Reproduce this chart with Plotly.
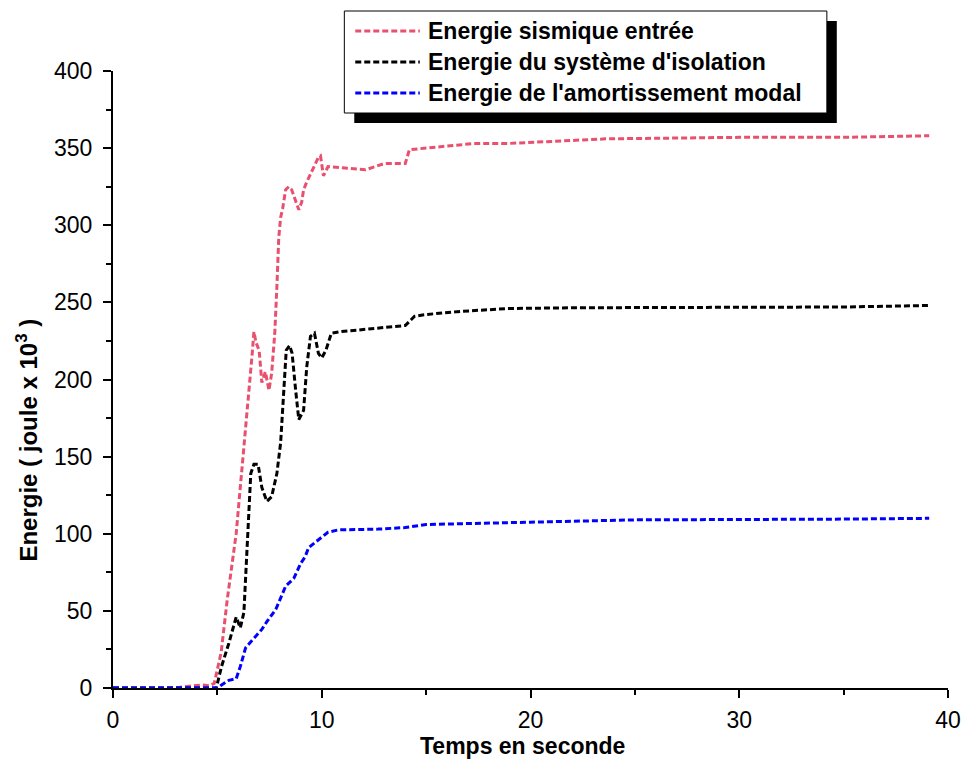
import plotly.graph_objects as go

# ---- data ----
t_input = [0, 2.5, 3.2, 3.8, 4.3, 4.6, 4.85, 5.18, 5.47, 5.9, 6.2, 6.5, 6.67, 6.75, 6.85, 7.0, 7.08, 7.13,
           7.3, 7.47, 7.6, 7.75, 7.85, 7.94, 8.03, 8.13, 8.27, 8.42, 8.56, 8.75, 8.9, 9.04, 9.13, 9.28,
           9.6, 9.84, 9.94, 10.08, 10.3, 11.1, 12.1, 13.0, 14.0, 14.2, 15.7, 17.3, 18.9, 20.5, 23.6, 30, 35, 39.1]
e_input = [0, 0, 0.5, 1.5, 2, 1.5, 3, 23, 57, 100, 146, 187, 217, 231, 224, 219, 208, 198,
           205, 193, 204, 230, 260, 292, 305, 311, 323, 325, 323, 315, 310, 315, 323, 328,
           337, 344, 345, 332, 338, 337, 336, 340, 340, 349, 351, 353, 353, 354, 356, 357, 357, 358]

t_isol = [0, 4.95, 5.2, 5.55, 5.9, 6.1, 6.27, 6.37, 6.5, 6.6, 6.75, 6.95, 7.13, 7.37, 7.6, 7.85, 8.03,
          8.2, 8.3, 8.46, 8.58, 8.75, 8.9, 9.13, 9.28, 9.46, 9.65, 9.84, 10.0, 10.2, 10.46, 10.9,
          12.5, 14.0, 14.45, 14.9, 16.5, 18.9, 22, 30, 35, 39.1]
e_isol = [0, 0, 14, 29, 46, 39, 49, 77, 117, 139, 145, 145, 130, 121, 124, 139, 159,
          198, 219, 222, 217, 193, 174, 180, 208, 228, 230, 217, 214, 219, 230, 231,
          233, 235, 241, 242, 244, 246, 246.5, 247, 247, 248]

t_amort = [0, 5.0, 5.2, 5.55, 5.9, 6.1, 6.35, 6.75, 7.13, 7.37, 7.8, 8.27, 8.66, 9.0, 9.2, 9.37,
           9.84, 10.3, 10.8, 12.7, 14.0, 15.0, 20.0, 25.0, 35.0, 39.1]
e_amort = [0, 0, 2, 5, 6, 14, 26, 32, 38, 43, 51, 66, 71, 81, 85, 91,
           96, 101, 102.5, 103, 104, 106, 107.5, 109, 109.5, 110]

series_names = ["Energie sismique entrée", "Energie du système d'isolation", "Energie de l'amortissement modal"]
series_colors = ["#E8506E", "#000000", "#0000FF"]

x_ticks = [0, 10, 20, 30, 40]
y_ticks = [0, 50, 100, 150, 200, 250, 300, 350, 400]

W, H = 973, 761
L, R, T, B = 113, 954, 71, 688

def px(x):
    return (x - L) / (R - L)

def py(y):
    return (B - y) / (B - T)

FONT = "Liberation Sans, Arial, sans-serif"
DASH = "6px,3px"

fig = go.Figure()
for t, e, c, n in zip([t_input, t_isol, t_amort], [e_input, e_isol, e_amort], series_colors, series_names):
    fig.add_trace(go.Scatter(x=t, y=e, mode="lines", name=n, showlegend=False,
                             line=dict(color=c, width=3, dash=DASH)))

axis_common = dict(showline=True, linecolor="black", linewidth=2, ticks="outside", ticklen=8,
                   tickwidth=2, tickcolor="black", showgrid=False, zeroline=False,
                   tickfont=dict(family=FONT, size=23, color="black"))

fig.update_layout(
    width=W, height=H, margin=dict(l=L, r=W - R, t=T, b=H - B),
    paper_bgcolor="white", plot_bgcolor="white", showlegend=False,
    xaxis=dict(range=[0, 40], tickvals=x_ticks, ticktext=[str(v) for v in x_ticks],
               minor=dict(dtick=5, ticks="outside", ticklen=5, tickwidth=2, tickcolor="black"),
               ticklabelstandoff=2, **axis_common),
    yaxis=dict(range=[0, 400], tickvals=y_ticks, ticktext=[str(v) for v in y_ticks],
               minor=dict(dtick=25, ticks="outside", ticklen=5, tickwidth=2, tickcolor="black"),
               ticklabelstandoff=6, **axis_common),
)

# axis titles
fig.add_annotation(text="<b>Temps en seconde</b>", xref="paper", yref="paper", x=px(525), y=py(746),
                   showarrow=False, xanchor="center", yanchor="middle",
                   font=dict(family=FONT, size=23, color="black"))
fig.add_annotation(text="<b>Energie ( joule x 10<sup>3</sup> )</b>", xref="paper", yref="paper",
                   x=px(26), y=py(440), showarrow=False, textangle=-90, xanchor="center", yanchor="middle",
                   font=dict(family=FONT, size=24, color="black"))

# custom legend box with shadow
fig.add_shape(type="rect", xref="paper", yref="paper", x0=px(356), x1=px(842), y0=py(21), y1=py(123),
              fillcolor="black", line=dict(width=0), layer="above")
fig.add_shape(type="rect", xref="paper", yref="paper", x0=px(346), x1=px(832), y0=py(11), y1=py(113),
              fillcolor="white", line=dict(color="black", width=1), layer="above")
rows = [31, 62, 93]
for yrow, c, n in zip(rows, series_colors, series_names):
    fig.add_shape(type="line", xref="paper", yref="paper", x0=px(357), x1=px(422), y0=py(yrow), y1=py(yrow),
                  line=dict(color=c, width=3, dash=DASH), layer="above")
    fig.add_annotation(text="<b>" + n + "</b>", xref="paper", yref="paper", x=px(428), y=py(yrow),
                       showarrow=False, xanchor="left", yanchor="middle",
                       font=dict(family=FONT, size=23, color="black"))

fig.write_html("out.html")
